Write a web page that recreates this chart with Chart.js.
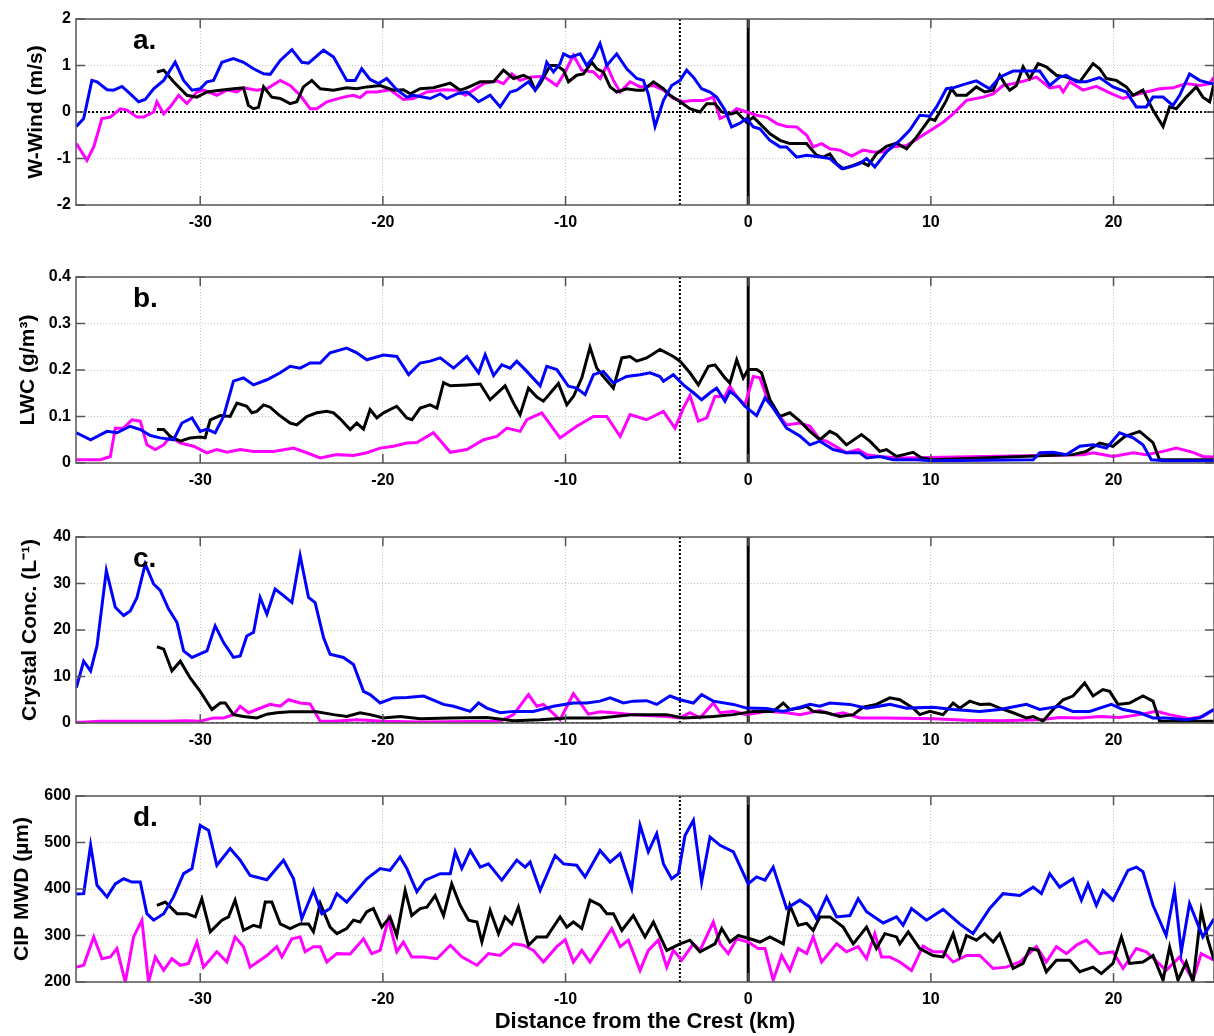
<!DOCTYPE html>
<html>
<head>
<meta charset="utf-8">
<script src="https://cdn.jsdelivr.net/npm/chart.js@4.4.0/dist/chart.umd.min.js"></script>
<style>
  body { margin: 0; background: #fff; width: 1214px; height: 1036px; position: relative; overflow: hidden; }
  .panel { position: absolute; left: 0; }
</style>
</head>
<body>
<div class="panel" style="top:0px"><canvas id="wind" width="1214" height="259"></canvas></div>
<div class="panel" style="top:258px"><canvas id="lwc" width="1214" height="259"></canvas></div>
<div class="panel" style="top:518px"><canvas id="conc" width="1214" height="259"></canvas></div>
<div class="panel" style="top:777px"><canvas id="mwd" width="1214" height="259"></canvas></div>
<script>
// distance from the crest (km) on x, one [km, value] pair per reading
const xTicks = [-30, -20, -10, 0, 10, 20];
const xMin = -36.8, xMax = 25.5;
const ridgeMark = -3.74; // dotted marker line
const crestMark = 0;     // solid crest line

const windTicks = [-2, -1, 0, 1, 2];
const lwcTicks = [0, 0.1, 0.2, 0.3, 0.4];
const concTicks = [0, 10, 20, 30, 40];
const mwdTicks = [200, 300, 400, 500, 600];

// a. W-Wind (m/s)
const windBlue = [[-36.78,-0.31],[-36.38,-0.14],[-35.93,0.68],[-35.65,0.65],[-35.1,0.48],[-34.74,0.47],[-34.28,0.55],[-33.83,0.39],[-33.37,0.22],[-33.01,0.27],[-32.55,0.5],[-32.0,0.68],[-31.37,1.07],[-30.91,0.68],[-30.45,0.47],[-30.0,0.5],[-29.63,0.65],[-29.27,0.68],[-28.81,1.07],[-28.18,1.15],[-27.63,1.07],[-27.08,0.93],[-26.53,0.82],[-26.17,0.81],[-25.62,1.11],[-24.98,1.34],[-24.44,1.07],[-24.07,1.05],[-23.25,1.33],[-22.7,1.18],[-21.98,0.68],[-21.52,0.68],[-21.16,0.93],[-20.7,0.7],[-20.24,0.61],[-19.79,0.72],[-19.24,0.48],[-18.69,0.32],[-18.32,0.36],[-17.41,0.29],[-16.86,0.39],[-16.5,0.29],[-15.95,0.39],[-15.4,0.43],[-15.04,0.32],[-14.76,0.22],[-14.13,0.36],[-13.58,0.11],[-13.03,0.43],[-12.67,0.47],[-12.03,0.65],[-11.66,0.47],[-11.21,0.79],[-11.03,1.07],[-10.66,0.86],[-10.3,1.04],[-10.11,1.25],[-9.75,1.18],[-9.2,1.25],[-8.84,1.0],[-8.47,1.18],[-8.11,1.47],[-7.74,1.0],[-7.2,1.25],[-6.65,0.93],[-6.1,0.72],[-5.74,0.68],[-5.47,0.39],[-5.1,-0.31],[-4.64,0.25],[-4.19,0.57],[-3.73,0.68],[-3.37,0.9],[-3.0,0.75],[-2.55,0.5],[-2.09,0.43],[-1.73,0.32],[-1.27,0.04],[-0.91,-0.32],[-0.45,-0.24],[-0.09,-0.14],[0.28,-0.32],[0.64,-0.36],[1.19,-0.61],[1.74,-0.75],[2.1,-0.75],[2.65,-0.97],[3.2,-0.93],[3.92,-0.97],[4.47,-1.0],[5.11,-1.22],[5.57,-1.18],[6.11,-1.11],[6.48,-1.0],[6.93,-1.18],[7.57,-0.86],[8.3,-0.61],[8.85,-0.39],[9.39,-0.07],[9.94,-0.09],[10.31,0.11],[10.85,0.5],[11.22,0.52],[11.95,0.61],[12.49,0.67],[13.22,0.5],[13.77,0.75],[14.5,0.88],[15.23,0.88],[15.96,0.88],[16.51,0.57],[17.05,0.75],[17.42,0.79],[17.96,0.65],[18.51,0.65],[19.24,0.74],[19.97,0.54],[20.7,0.43],[21.25,0.11],[21.79,0.11],[22.16,0.32],[22.71,0.32],[23.25,0.14],[23.62,0.36],[24.16,0.82],[24.71,0.68],[25.26,0.62],[25.5,0.61]];
const windBlack = [[-32.37,0.86],[-32.0,0.9],[-31.46,0.65],[-30.73,0.36],[-30.18,0.32],[-29.63,0.43],[-28.9,0.47],[-28.18,0.5],[-27.63,0.52],[-27.36,0.14],[-27.08,0.07],[-26.81,0.1],[-26.53,0.54],[-26.08,0.32],[-25.62,0.29],[-25.08,0.18],[-24.71,0.22],[-24.35,0.54],[-23.89,0.68],[-23.43,0.5],[-22.7,0.47],[-21.98,0.52],[-21.43,0.5],[-20.88,0.54],[-20.15,0.57],[-19.42,0.47],[-18.88,0.48],[-18.5,0.39],[-17.96,0.5],[-17.23,0.52],[-16.31,0.62],[-15.77,0.47],[-15.4,0.52],[-14.67,0.65],[-13.94,0.65],[-13.4,0.9],[-12.85,0.72],[-12.3,0.79],[-11.94,0.72],[-11.66,0.47],[-11.39,0.61],[-10.84,1.0],[-10.48,1.0],[-10.11,0.9],[-9.84,0.65],[-9.39,0.79],[-9.02,0.82],[-8.56,1.07],[-8.29,0.93],[-7.93,0.86],[-7.56,0.54],[-7.2,0.43],[-6.65,0.5],[-6.1,0.47],[-5.74,0.47],[-5.19,0.65],[-4.64,0.5],[-4.28,0.36],[-3.73,0.22],[-3.19,0.07],[-2.64,0],[-2.27,0.18],[-1.82,0.18],[-1.45,0],[-0.91,-0.04],[-0.63,0],[-0.09,-0.22],[0.28,-0.11],[0.64,-0.25],[1.19,-0.47],[1.74,-0.61],[2.28,-0.68],[2.83,-0.68],[3.19,-0.68],[3.74,-0.93],[4.11,-0.97],[4.47,-0.9],[4.84,-1.11],[5.2,-1.22],[5.75,-1.15],[6.2,-1.08],[6.57,-1.15],[7.02,-0.9],[7.57,-0.74],[8.12,-0.67],[8.67,-0.79],[9.21,-0.54],[9.94,-0.14],[10.22,-0.18],[10.49,0],[10.85,0.25],[11.13,0.5],[11.4,0.36],[11.95,0.36],[12.49,0.54],[12.95,0.43],[13.41,0.47],[13.77,0.79],[14.04,0.61],[14.32,0.47],[14.68,0.57],[15.05,0.97],[15.41,0.72],[15.87,1.04],[16.32,0.97],[16.87,0.79],[17.42,0.75],[18.15,0.65],[18.88,1.04],[19.24,0.93],[19.61,0.72],[20.15,0.68],[20.7,0.54],[21.07,0.36],[21.61,0.47],[22.16,0.04],[22.71,-0.31],[23.07,0.11],[23.44,0.07],[23.98,0.32],[24.53,0.54],[24.89,0.32],[25.26,0.22],[25.5,0.61]];
const windMagenta = [[-36.78,-0.68],[-36.2,-1.04],[-35.83,-0.75],[-35.38,-0.14],[-34.92,-0.11],[-34.38,0.07],[-34.01,0.04],[-33.46,-0.11],[-33.1,-0.11],[-32.55,0],[-32.37,0.22],[-32.0,-0.04],[-31.64,0.11],[-31.18,0.36],[-30.73,0.18],[-30.18,0.43],[-29.82,0.47],[-29.09,0.36],[-28.54,0.47],[-27.99,0.43],[-27.63,0.52],[-26.9,0.47],[-26.35,0.5],[-25.62,0.68],[-25.08,0.57],[-24.53,0.36],[-23.98,0.07],[-23.62,0.07],[-23.07,0.22],[-22.16,0.32],[-21.61,0.36],[-21.25,0.31],[-20.88,0.43],[-20.33,0.43],[-19.61,0.48],[-18.88,0.27],[-18.33,0.29],[-17.59,0.43],[-16.68,0.48],[-15.95,0.47],[-15.49,0.36],[-15.04,0.47],[-14.49,0.61],[-13.76,0.67],[-13.4,0.61],[-12.94,0.82],[-12.49,0.68],[-11.94,0.75],[-11.21,0.77],[-10.48,0.57],[-10.02,0.86],[-9.57,1.22],[-9.11,0.9],[-8.47,0.86],[-8.11,0.72],[-7.74,1.0],[-7.38,0.68],[-7.01,0.43],[-6.47,0.65],[-5.92,0.54],[-5.19,0.57],[-4.64,0.47],[-4.1,0.29],[-3.55,0.22],[-3.0,0.25],[-2.46,0.25],[-1.91,0.32],[-1.54,-0.14],[-1.0,-0.04],[-0.63,0.07],[-0.09,0],[0.46,-0.07],[1.01,-0.11],[1.56,-0.25],[2.1,-0.31],[2.65,-0.32],[3.2,-0.5],[3.56,-0.75],[4.02,-0.68],[4.47,-0.79],[5.02,-0.82],[5.66,-0.95],[6.29,-0.82],[6.84,-0.86],[7.39,-0.86],[7.94,-0.75],[8.67,-0.72],[9.39,-0.54],[10.12,-0.36],[10.67,-0.22],[11.22,-0.04],[11.95,0.25],[12.86,0.32],[13.41,0.39],[13.95,0.57],[14.5,0.61],[15.05,0.66],[15.78,0.75],[16.51,0.52],[17.05,0.55],[17.24,0.43],[17.6,0.65],[18.33,0.47],[19.06,0.55],[19.79,0.41],[20.52,0.29],[21.07,0.36],[21.79,0.43],[22.52,0.5],[23.25,0.52],[23.98,0.61],[24.71,0.57],[25.26,0.61],[25.5,0.75]];

// b. LWC (g/m3)
const lwcBlue = [[-36.78,0.065],[-36.0,0.05],[-35.1,0.068],[-34.56,0.065],[-33.83,0.079],[-33.28,0.072],[-32.73,0.059],[-32.19,0.054],[-31.46,0.05],[-31.0,0.086],[-30.45,0.097],[-30.0,0.068],[-29.63,0.073],[-29.18,0.065],[-28.72,0.1],[-28.18,0.176],[-27.63,0.183],[-27.08,0.168],[-26.35,0.179],[-25.62,0.194],[-25.08,0.208],[-24.53,0.204],[-23.98,0.215],[-23.43,0.215],[-22.89,0.237],[-21.98,0.247],[-21.43,0.237],[-20.88,0.222],[-19.97,0.232],[-19.24,0.229],[-18.59,0.19],[-17.96,0.215],[-17.41,0.219],[-16.86,0.226],[-16.13,0.204],[-15.4,0.229],[-14.76,0.194],[-14.4,0.233],[-13.94,0.188],[-13.49,0.211],[-13.03,0.204],[-12.67,0.219],[-12.12,0.197],[-11.39,0.166],[-11.03,0.208],[-10.48,0.201],[-9.84,0.165],[-9.39,0.161],[-8.93,0.147],[-8.47,0.19],[-7.93,0.197],[-7.38,0.172],[-6.65,0.186],[-5.92,0.19],[-5.37,0.194],[-4.83,0.186],[-4.64,0.176],[-4.1,0.19],[-3.55,0.168],[-3.0,0.151],[-2.55,0.136],[-2.09,0.151],[-1.73,0.161],[-1.27,0.133],[-1.0,0.154],[-0.63,0.143],[-0.18,0.122],[0.46,0.102],[0.92,0.14],[1.37,0.118],[2.1,0.075],[2.83,0.058],[3.38,0.039],[3.92,0.047],[4.65,0.029],[5.38,0.022],[6.11,0.022],[6.48,0.011],[7.2,0.014],[7.94,0.007],[9.21,0.007],[10.12,0.005],[15.6,0.007],[15.96,0.022],[16.69,0.023],[17.42,0.018],[18.15,0.036],[18.88,0.039],[19.61,0.032],[20.33,0.065],[21.07,0.054],[21.61,0.039],[22.07,0.007],[22.88,0.005],[25.5,0.005]];
const lwcBlack = [[-32.37,0.072],[-32.0,0.072],[-31.64,0.057],[-31.09,0.047],[-30.55,0.054],[-30.0,0.056],[-29.73,0.054],[-29.45,0.093],[-28.9,0.102],[-28.36,0.1],[-27.99,0.129],[-27.45,0.122],[-27.17,0.108],[-26.9,0.111],[-26.53,0.125],[-26.17,0.12],[-25.71,0.104],[-25.08,0.086],[-24.71,0.082],[-24.17,0.1],[-23.62,0.108],[-23.07,0.111],[-22.7,0.108],[-22.34,0.095],[-21.79,0.072],[-21.43,0.086],[-21.06,0.073],[-20.7,0.115],[-20.33,0.097],[-19.97,0.108],[-19.24,0.122],[-18.69,0.097],[-18.41,0.093],[-17.96,0.118],[-17.41,0.125],[-17.04,0.118],[-16.68,0.173],[-16.31,0.166],[-15.4,0.168],[-14.67,0.17],[-14.13,0.136],[-13.31,0.166],[-12.85,0.129],[-12.49,0.104],[-12.03,0.161],[-11.57,0.142],[-11.21,0.133],[-10.39,0.171],[-9.93,0.125],[-9.57,0.143],[-9.11,0.183],[-8.66,0.249],[-8.29,0.204],[-7.93,0.186],[-7.38,0.161],[-6.92,0.226],[-6.47,0.229],[-6.1,0.219],[-5.56,0.226],[-4.83,0.244],[-4.1,0.229],[-3.73,0.219],[-3.19,0.194],[-2.73,0.168],[-2.18,0.208],[-1.82,0.211],[-1.27,0.183],[-1.0,0.172],[-0.63,0.222],[-0.27,0.183],[0.0,0.201],[0.46,0.201],[0.73,0.194],[1.19,0.136],[1.74,0.1],[2.28,0.108],[2.83,0.09],[3.38,0.068],[3.92,0.05],[4.47,0.068],[4.84,0.061],[5.38,0.039],[6.2,0.061],[6.66,0.047],[7.2,0.025],[7.57,0.029],[8.12,0.014],[9.03,0.023],[9.49,0.011],[10.12,0.007],[17.78,0.018],[18.51,0.025],[19.24,0.043],[19.97,0.036],[20.61,0.057],[21.43,0.068],[22.16,0.044],[22.52,0.007],[25.5,0.007]];
const lwcMagenta = [[-36.78,0.007],[-35.47,0.007],[-34.92,0.014],[-34.65,0.075],[-34.19,0.075],[-33.74,0.093],[-33.28,0.09],[-32.92,0.039],[-32.46,0.029],[-32.0,0.039],[-31.64,0.057],[-31.09,0.043],[-30.36,0.036],[-29.63,0.022],[-29.09,0.029],[-28.54,0.023],[-27.81,0.029],[-27.08,0.025],[-25.99,0.025],[-24.89,0.032],[-24.17,0.022],[-23.43,0.011],[-22.52,0.018],[-21.61,0.016],[-20.88,0.022],[-20.15,0.032],[-19.42,0.036],[-18.69,0.043],[-18.14,0.044],[-17.23,0.065],[-16.31,0.023],[-15.4,0.029],[-14.49,0.05],[-13.76,0.057],[-13.21,0.075],[-12.49,0.068],[-12.12,0.093],[-11.3,0.108],[-10.3,0.054],[-9.39,0.079],[-8.47,0.1],[-7.74,0.1],[-7.01,0.057],[-6.47,0.104],[-5.56,0.093],[-4.64,0.111],[-4.01,0.075],[-3.55,0.118],[-3.19,0.145],[-2.73,0.09],[-2.27,0.097],[-1.82,0.143],[-1.27,0.143],[-1.0,0.165],[-0.63,0.143],[-0.18,0.125],[0.28,0.186],[0.64,0.183],[1.01,0.143],[1.56,0.108],[2.1,0.082],[2.83,0.086],[3.38,0.079],[3.93,0.05],[4.29,0.047],[5.38,0.022],[6.02,0.029],[6.48,0.018],[7.2,0.014],[8.3,0.011],[18.33,0.018],[18.88,0.022],[19.97,0.014],[21.07,0.022],[21.79,0.018],[22.71,0.025],[23.44,0.032],[24.35,0.023],[24.89,0.014],[25.5,0.013]];

// c. Crystal Conc. (L-1)
const concBlue = [[-36.78,7.6],[-36.38,13.3],[-36.0,11.2],[-35.65,16.6],[-35.14,32.8],[-34.65,24.9],[-34.19,23.1],[-33.83,24.1],[-33.46,27.0],[-33.01,34.2],[-32.55,29.9],[-32.19,28.5],[-31.73,24.5],[-31.27,21.6],[-30.91,15.5],[-30.45,14.1],[-29.63,15.5],[-29.18,20.9],[-28.72,17.3],[-28.18,14.1],[-27.81,14.4],[-27.45,18.7],[-27.08,19.5],[-26.72,27.0],[-26.35,23.4],[-25.9,28.8],[-25.44,27.4],[-24.98,25.9],[-24.53,36.0],[-24.07,27.0],[-23.71,25.9],[-23.25,18.4],[-22.89,14.8],[-22.16,14.1],[-21.61,12.6],[-21.06,6.8],[-20.7,6.1],[-20.15,4.3],[-19.42,5.4],[-18.69,5.5],[-17.77,5.8],[-16.68,4.0],[-16.13,3.6],[-15.22,2.5],[-14.76,4.3],[-14.31,3.2],[-13.58,2.2],[-12.85,2.5],[-11.76,2.5],[-10.66,3.6],[-9.57,4.3],[-8.84,4.3],[-8.11,4.7],[-7.56,5.4],[-6.83,4.3],[-6.29,4.7],[-5.56,4.8],[-5.01,4.0],[-4.28,5.8],[-3.73,5.0],[-3.0,4.3],[-2.55,6.1],[-1.91,4.7],[-0.81,4.0],[-0.09,3.2],[1.01,3.1],[1.92,2.5],[2.83,3.4],[3.38,4.0],[3.92,3.6],[4.47,4.3],[5.57,4.0],[6.48,3.2],[7.75,4.0],[8.67,3.2],[10.12,3.4],[11.22,2.9],[12.68,2.5],[13.77,2.9],[15.23,4.0],[15.96,2.9],[17.05,3.6],[17.78,2.5],[18.69,2.5],[19.88,4.0],[20.52,2.9],[21.43,2.2],[22.16,1.1],[22.88,1.1],[23.98,0.7],[24.71,1.1],[25.26,2.4],[25.5,2.9]];
const concBlack = [[-32.37,16.4],[-32.0,15.9],[-31.55,11.2],[-31.09,13.3],[-30.55,9.7],[-30.0,6.8],[-29.36,2.9],[-28.9,4.3],[-28.63,4.3],[-28.18,1.8],[-27.63,1.4],[-26.9,1.1],[-26.35,1.9],[-25.81,2.2],[-25.08,2.4],[-23.62,2.4],[-22.7,1.8],[-21.98,1.4],[-21.25,2.2],[-20.7,1.8],[-19.97,1.1],[-19.06,1.4],[-17.96,0.9],[-16.31,1.1],[-14.31,1.2],[-12.85,0.5],[-11.39,0.7],[-9.93,1.1],[-8.11,1.1],[-6.29,1.8],[-4.46,1.8],[-3.55,1.1],[-1.91,1.4],[-0.81,1.8],[0.28,2.5],[1.37,2.5],[1.92,4.3],[2.28,2.9],[2.83,3.2],[3.19,3.6],[3.56,2.5],[4.29,2.2],[5.02,1.4],[5.75,1.8],[6.29,3.4],[7.02,4.0],[7.75,5.4],[8.3,5.0],[9.03,3.2],[9.39,1.8],[9.94,2.5],[10.67,1.8],[11.22,4.3],[11.58,3.2],[12.13,4.7],[12.68,4.0],[13.22,4.1],[13.77,3.2],[14.5,2.2],[15.23,1.1],[15.6,1.4],[16.14,0.4],[16.69,2.9],[17.24,5.0],[17.78,5.8],[18.42,8.6],[18.88,5.8],[19.42,7.2],[19.79,6.8],[20.24,4.0],[20.88,4.3],[21.61,5.8],[22.16,4.7],[22.52,0.4],[25.5,0.4]];
const concMagenta = [[-36.78,0.1],[-35.47,0.4],[-31.82,0.4],[-30.73,0.5],[-30.0,0.4],[-29.27,1.1],[-28.72,1.1],[-28.18,1.8],[-27.81,3.6],[-27.36,2.2],[-26.9,2.9],[-26.17,4.0],[-25.62,3.6],[-25.17,5.0],[-24.53,4.3],[-23.98,4.1],[-23.43,0.4],[-22.7,0.4],[-21.43,0.7],[-19.97,0.4],[-17.96,0.2],[-13.58,0.4],[-12.85,1.8],[-12.03,6.1],[-11.57,3.6],[-11.21,4.0],[-10.3,0.7],[-9.57,6.3],[-8.75,1.9],[-8.11,2.4],[-7.38,2.2],[-6.29,1.8],[-4.46,1.4],[-3.73,1.1],[-3.19,2.2],[-2.64,1.1],[-1.91,4.3],[-1.54,2.2],[-0.81,2.5],[-0.09,1.8],[1.01,2.5],[2.1,2.2],[2.83,1.8],[3.92,2.7],[4.65,1.8],[5.2,2.2],[6.11,1.1],[7.57,1.1],[10.12,0.9],[11.95,0.6],[13.77,0.5],[15.96,0.7],[17.05,1.2],[18.15,1.1],[19.24,1.4],[20.33,1.2],[21.43,1.8],[22.34,2.5],[23.07,1.8],[24.16,0.9],[24.89,1.4],[25.5,2.9]];

// d. CIP MWD (um)
const mwdBlue = [[-36.78,389],[-36.38,390],[-36.0,494],[-35.65,408],[-35.1,383],[-34.65,411],[-34.19,422],[-33.74,415],[-33.28,415],[-32.92,347],[-32.55,333],[-32.0,347],[-31.46,383],[-30.91,433],[-30.45,444],[-30.0,537],[-29.54,526],[-29.09,451],[-28.36,487],[-27.81,462],[-27.27,429],[-26.35,420],[-25.44,462],[-24.89,422],[-24.44,336],[-23.8,397],[-23.34,347],[-22.89,358],[-22.52,390],[-21.98,372],[-20.88,422],[-20.15,444],[-19.61,440],[-19.06,469],[-18.69,444],[-18.14,394],[-17.68,419],[-16.86,433],[-16.31,433],[-16.04,480],[-15.68,444],[-15.22,483],[-14.67,447],[-14.22,454],[-13.49,419],[-12.67,462],[-12.21,447],[-11.94,458],[-11.39,397],[-10.57,472],[-10.11,454],[-9.39,451],[-8.93,426],[-8.11,483],[-7.56,458],[-7.01,476],[-6.38,401],[-5.92,537],[-5.47,480],[-5.01,519],[-4.64,454],[-4.19,422],[-3.82,433],[-3.46,515],[-3.0,548],[-2.55,415],[-2.09,512],[-1.54,494],[-0.81,480],[0.0,411],[0.46,426],[0.92,419],[1.37,447],[2.1,358],[2.83,376],[3.38,361],[3.74,336],[4.29,383],[4.84,340],[5.57,343],[6.02,379],[6.48,351],[7.39,327],[8.12,340],[8.48,322],[8.94,358],[9.76,333],[10.67,356],[11.58,325],[12.31,304],[13.22,358],[13.95,390],[14.87,386],[15.6,404],[16.05,390],[16.51,433],[17.05,404],[17.78,422],[18.24,376],[18.6,411],[19.06,365],[19.42,397],[19.97,376],[20.79,440],[21.25,447],[21.61,437],[22.16,365],[22.88,300],[23.34,397],[23.71,265],[24.16,369],[24.89,297],[25.5,336]];
const mwdBlack = [[-32.37,365],[-31.91,372],[-31.27,347],[-30.73,347],[-30.27,340],[-29.91,379],[-29.45,308],[-28.81,333],[-28.45,340],[-28.09,376],[-27.63,311],[-27.08,322],[-26.72,318],[-26.44,372],[-26.08,372],[-25.62,325],[-25.08,315],[-24.53,325],[-24.07,325],[-23.8,308],[-23.43,369],[-22.89,318],[-22.52,304],[-21.98,315],[-21.61,333],[-21.25,329],[-20.88,351],[-20.52,358],[-20.06,318],[-19.61,340],[-19.24,300],[-18.78,397],[-18.42,343],[-17.96,358],[-17.59,361],[-17.14,386],[-16.68,343],[-16.23,411],[-15.77,365],[-15.31,333],[-14.85,329],[-14.58,286],[-14.13,354],[-13.67,304],[-13.31,340],[-12.94,325],[-12.58,361],[-12.03,279],[-11.57,297],[-11.03,297],[-10.3,340],[-9.93,318],[-9.57,329],[-9.11,315],[-8.66,376],[-8.11,365],[-7.74,347],[-7.38,347],[-6.92,311],[-6.29,343],[-5.65,297],[-5.19,329],[-4.46,268],[-3.73,282],[-3.19,290],[-2.64,265],[-1.82,282],[-1.45,315],[-1.0,286],[-0.54,300],[0.1,293],[0.64,286],[1.19,297],[1.92,282],[2.28,365],[2.74,322],[3.2,326],[3.56,311],[3.93,340],[4.47,340],[5.2,318],[5.75,282],[6.48,318],[7.02,272],[7.48,304],[8.12,297],[8.3,282],[8.76,308],[9.39,272],[10.12,257],[10.67,254],[11.22,304],[11.58,257],[11.95,300],[12.49,290],[12.95,304],[13.41,286],[13.77,304],[14.5,229],[15.05,240],[15.41,272],[15.87,268],[16.32,222],[16.87,247],[17.6,247],[18.15,222],[18.88,232],[19.33,218],[19.97,240],[20.43,297],[20.88,240],[21.61,243],[22.16,257],[22.71,204],[23.07,275],[23.53,204],[23.98,243],[24.35,200],[24.8,354],[25.17,290],[25.5,247]];
const mwdMagenta = [[-36.78,232],[-36.38,236],[-35.83,297],[-35.38,250],[-34.92,254],[-34.56,272],[-34.1,200],[-33.65,297],[-33.19,333],[-32.83,200],[-32.46,254],[-32.0,225],[-31.55,250],[-31.09,236],[-30.64,240],[-30.18,286],[-29.82,232],[-29.09,265],[-28.54,243],[-28.09,297],[-27.63,276],[-27.27,232],[-26.35,257],[-25.81,276],[-25.53,254],[-24.98,293],[-24.53,297],[-24.26,265],[-23.8,276],[-23.43,276],[-23.07,243],[-22.52,261],[-21.79,260],[-21.06,293],[-20.61,261],[-20.15,268],[-19.7,335],[-19.24,265],[-18.88,286],[-18.42,254],[-17.77,254],[-17.04,250],[-16.31,279],[-15.68,254],[-14.85,236],[-14.22,261],[-13.58,257],[-12.85,282],[-12.3,279],[-11.76,268],[-11.21,243],[-10.48,276],[-10.02,291],[-9.57,243],[-9.11,268],[-8.66,243],[-8.11,276],[-7.47,315],[-7.01,276],[-6.56,290],[-5.92,225],[-5.47,268],[-4.92,290],[-4.46,232],[-4.1,268],[-3.64,247],[-3.0,282],[-2.64,268],[-1.91,329],[-1.54,282],[-1.09,261],[-0.63,293],[0.0,286],[0.55,272],[0.92,272],[1.37,204],[1.83,257],[2.28,225],[2.74,272],[3.2,261],[3.56,297],[4.02,243],[4.84,282],[5.38,265],[6.02,276],[6.48,250],[6.93,304],[7.3,254],[7.75,254],[8.3,243],[8.94,225],[9.57,277],[10.12,265],[10.67,265],[11.22,243],[11.95,257],[12.68,257],[13.41,229],[14.13,232],[14.87,243],[15.78,276],[16.32,243],[16.87,276],[17.42,261],[17.96,279],[18.51,290],[19.24,261],[19.97,265],[20.52,229],[21.25,272],[21.79,265],[22.88,225],[23.62,254],[24.35,204],[24.8,261],[25.5,247]];

const seriesColors = ['#0000ff', '#000000', '#ff00ff'];
const fontFamily = '"Liberation Sans", Arial, Helvetica, sans-serif';

const decor = {
  id: 'decor',
  beforeDatasetsDraw(chart, args, opts) {
    const { ctx, chartArea: { left, right, top, bottom }, scales: { x, y } } = chart;
    const line = (x1, y1, x2, y2) => { ctx.beginPath(); ctx.moveTo(x1, y1); ctx.lineTo(x2, y2); ctx.stroke(); };
    ctx.save();
    ctx.beginPath();
    ctx.rect(left, top, right - left, bottom - top);
    ctx.clip();
    ctx.strokeStyle = '#000';
    if (opts.zeroDash) {
      const y0 = y.getPixelForValue(0);
      ctx.lineWidth = opts.zeroWidth;
      ctx.setLineDash(opts.zeroDash);
      line(left, y0, right, y0);
    }
    const xr = x.getPixelForValue(ridgeMark);
    ctx.lineWidth = 2;
    ctx.setLineDash([2, 2]);
    line(xr, top, xr, bottom);
    const xc = x.getPixelForValue(crestMark);
    ctx.lineWidth = 3;
    ctx.setLineDash([]);
    line(xc, top, xc, bottom);
    ctx.restore();
  },
  afterDraw(chart, args, opts) {
    const { ctx, chartArea: { left, right, top, bottom }, scales: { x, y } } = chart;
    ctx.save();
    ctx.strokeStyle = '#555';
    ctx.lineWidth = 1.5;
    ctx.strokeRect(left, top, right - left, bottom - top);
    // inward tick marks on all four sides
    ctx.beginPath();
    xTicks.forEach(v => {
      const px = x.getPixelForValue(v);
      ctx.moveTo(px, bottom); ctx.lineTo(px, bottom - 9);
      ctx.moveTo(px, top); ctx.lineTo(px, top + 9);
    });
    opts.yTicks.forEach(v => {
      const py = y.getPixelForValue(v);
      ctx.moveTo(left, py); ctx.lineTo(left + 9, py);
      ctx.moveTo(right, py); ctx.lineTo(right - 9, py);
    });
    ctx.stroke();
    ctx.fillStyle = '#000';
    ctx.font = 'bold 28px ' + fontFamily;
    ctx.textBaseline = 'alphabetic';
    ctx.fillText(opts.letter, left + 57, top + 30);
    ctx.restore();
  }
};

function makePanel(id, cfg) {
  new Chart(document.getElementById(id), {
    type: 'line',
    data: {
      datasets: cfg.series.map((pairs, i) => ({
        data: pairs.map(([x, y]) => ({ x, y })),
        borderColor: seriesColors[i],
        borderWidth: 3,
        pointRadius: 0,
        fill: false,
        tension: 0
      }))
    },
    options: {
      responsive: false,
      animation: false,
      layout: { padding: { top: 19, left: 0, right: 0, bottom: 0 } },
      plugins: {
        legend: { display: false },
        tooltip: { enabled: false },
        decor: { letter: cfg.letter, yTicks: cfg.yTicks, zeroDash: cfg.zeroDash, zeroWidth: cfg.zeroWidth }
      },
      scales: {
        x: {
          type: 'linear',
          min: xMin,
          max: xMax,
          afterBuildTicks: s => { s.ticks = xTicks.map(v => ({ value: v })); },
          afterFit: s => { s.height = 54; },
          grid: { color: '#c4c4c4', lineWidth: 1, drawTicks: false },
          border: { display: false, dash: [1, 2] },
          ticks: {
            autoSkip: false, maxRotation: 0, padding: 8, color: '#000',
            font: { family: fontFamily, size: 16, weight: 'bold' },
            callback: v => String(v)
          },
          title: {
            display: !!cfg.xTitle,
            text: cfg.xTitle || '',
            color: '#000',
            font: { family: fontFamily, size: 22, weight: 'bold' },
            padding: { top: 0, bottom: 1 }
          }
        },
        y: {
          type: 'linear',
          min: cfg.yTicks[0],
          max: cfg.yTicks[cfg.yTicks.length - 1],
          afterBuildTicks: s => { s.ticks = cfg.yTicks.map(v => ({ value: v })); },
          afterFit: s => { s.width = 76; },
          grid: { color: '#c4c4c4', lineWidth: 1, drawTicks: false },
          border: { display: false, dash: [1, 2] },
          ticks: {
            padding: 5, color: '#000',
            font: { family: fontFamily, size: 16, weight: 'bold' },
            callback: v => String(v)
          },
          title: {
            display: true,
            text: cfg.yTitle,
            color: '#000',
            font: { family: fontFamily, size: 21, weight: 'bold' },
            padding: { top: cfg.yTitlePad, bottom: 0 }
          }
        }
      }
    },
    plugins: [decor]
  });
}

makePanel('wind', {
  letter: 'a.', yTitle: 'W-Wind (m/s)', yTicks: windTicks, yTitlePad: 24,
  series: [windBlue, windBlack, windMagenta], zeroDash: [2, 2], zeroWidth: 2
});
makePanel('lwc', {
  letter: 'b.', yTitle: 'LWC (g/m³)', yTicks: lwcTicks, yTitlePad: 16,
  series: [lwcBlue, lwcBlack, lwcMagenta]
});
makePanel('conc', {
  letter: 'c.', yTitle: 'Crystal Conc. (L⁻¹)', yTicks: concTicks, yTitlePad: 18,
  series: [concBlue, concBlack, concMagenta], zeroDash: [3, 2], zeroWidth: 1.5
});
makePanel('mwd', {
  letter: 'd.', yTitle: 'CIP MWD (µm)', yTicks: mwdTicks, yTitlePad: 10,
  series: [mwdBlue, mwdBlack, mwdMagenta], xTitle: 'Distance from the Crest (km)'
});
</script>
</body>
</html>
